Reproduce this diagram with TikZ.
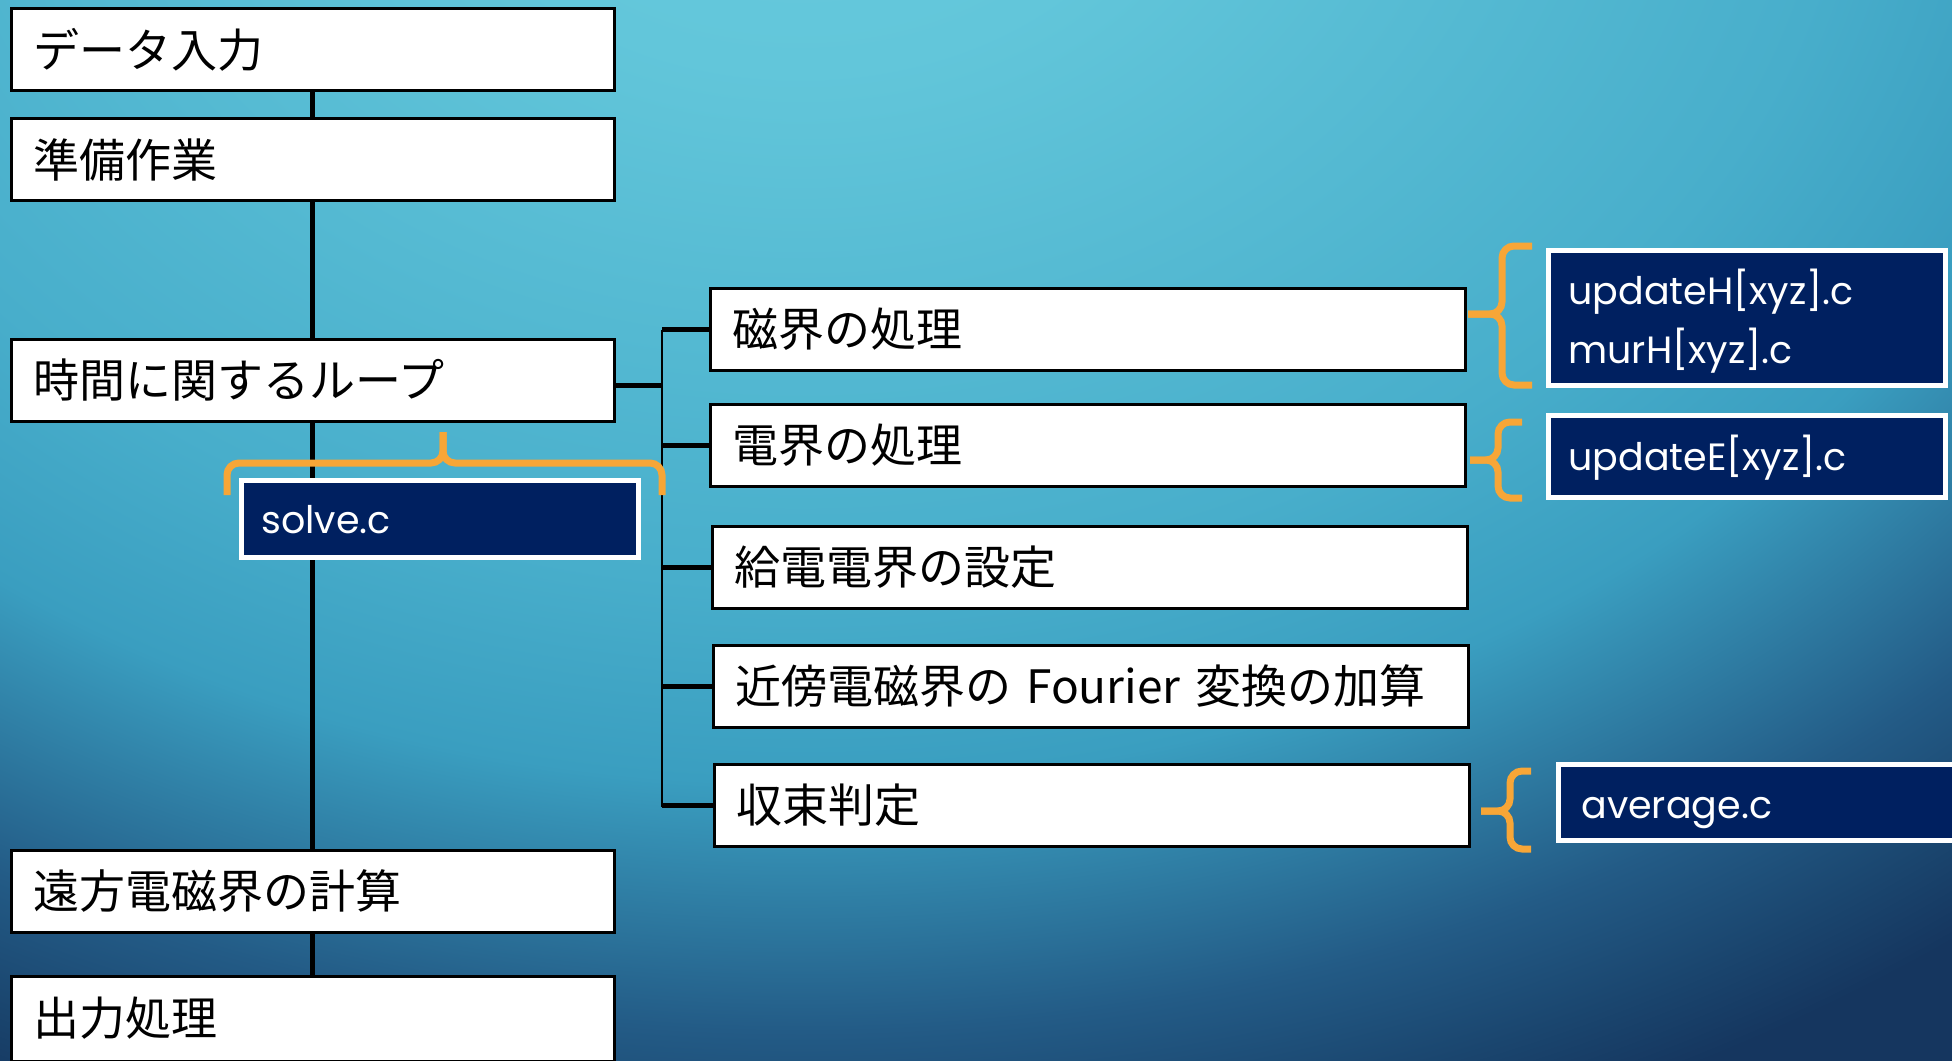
\documentclass[tikz,border=0pt]{standalone}
\usepackage{fontspec}
\newfontfamily\jp{Noto Sans CJK JP}
\newfontfamily\pop{Poppins}
\definecolor{bgA}{HTML}{68CBDE}
\definecolor{bgB}{HTML}{62C6DA}
\definecolor{bgC}{HTML}{48AECB}
\definecolor{bgD}{HTML}{3A9EC0}
\definecolor{bgE}{HTML}{235B86}
\definecolor{bgF}{HTML}{1A456E}
\definecolor{bgG}{HTML}{15365F}
\definecolor{navy}{HTML}{002060}
\definecolor{brc}{HTML}{F7A637}
\pgfdeclareradialshading{bgshade}{\pgfpointorigin}{color(0bp)=(bgA); color(2.5bp)=(bgB); color(7.25bp)=(bgC); color(9.1bp)=(bgD); color(11.4bp)=(bgE); color(12.5bp)=(bgF); color(13.25bp)=(bgG); color(50bp)=(bgG)}
\begin{document}
\begin{tikzpicture}[x=0.5pt,y=-0.5pt,
  wbox/.style={draw=black, line width=1.5pt, fill=white, inner xsep=11pt, inner ysep=0pt,
    align=left, text=black, font=\jp\fontsize{23pt}{27pt}\selectfont},
  lbox/.style={wbox, minimum width=301.5pt, text width=279.5pt, minimum height=41pt},
  rbox/.style={wbox, minimum width=377.5pt, text width=355.5pt, minimum height=41pt},
  dbox/.style={draw=white, line width=2.5pt, fill=navy, minimum width=198.5pt, inner sep=0pt},
  dtext/.style={text=white, font=\pop\fontsize{19pt}{23pt}\selectfont, inner sep=0pt, anchor=base west},
  trunk/.style={line width=2.5pt},
  bus/.style={line width=1pt},
  stub/.style={line width=2.5pt},
  brace/.style={draw=brc, line width=3.5pt, rounded corners=6pt}]
\useasboundingbox (0,0) rectangle (1952,1060);
\begin{scope}
  \clip (0,0) rectangle (1952,1060);
  \fill[shading=bgshade] (-2800,-2900) rectangle (4400,2500);
\end{scope}
% left column
\node[lbox] (b1) at (312.5,49.5) {データ入力};
\node[lbox] (b2) at (312.5,159.5) {準備作業};
\node[lbox] (b3) at (312.5,380) {時間に関するループ};
\node[lbox] (b4) at (312.5,891) {遠方電磁界の計算};
\node[lbox, minimum height=42.5pt] (b5) at (312.5,1018.5) {出力処理};
\draw[trunk] (b1.south) -- (b2.north);
\draw[trunk] (b2.south) -- (b3.north);
\draw[trunk] (b3.south) -- (b4.north);
\draw[trunk] (b4.south) -- (b5.north);
% right column
\node[rbox] (r1) at (1088,329.5) {磁界の処理};
\node[rbox] (r2) at (1088,445.5) {電界の処理};
\node[rbox] (r3) at (1090,567) {給電電界の設定};
\node[rbox] (r4) at (1090.5,686.5) {近傍電磁界の Fourier 変換の加算};
\node[rbox] (r5) at (1091.5,805.5) {収束判定};
\coordinate (bt) at (662,329.5);
\coordinate (bb) at (662,807);
\coordinate (bj) at (662,385);
\draw[bus] (bt) -- (bb);
\draw[stub] (b3.east |- bj) -- (bj);
\draw[stub] (r1.west -| bt) -- (r1.west);
\draw[stub] (r2.west -| bt) -- (r2.west);
\draw[stub] (r3.west -| bt) -- (r3.west);
\draw[stub] (r4.west -| bt) -- (r4.west);
\draw[stub] (r5.west -| bt) -- (r5.west);
% dark boxes
\node[dbox, minimum height=67.5pt] (dH) at (1747,318) {};
\node[dtext] (tH1) at (1568,304) {updateH[xyz].c};
\node[dtext] (tH2) at (1568,363) {murH[xyz].c};
\node[dbox, minimum height=41pt] (dE) at (1747,456.5) {};
\node[dtext] (tE) at (1568,470) {updateE[xyz].c};
\node[dbox, minimum height=38pt] (dA) at (1757,802.5) {};
\node[dtext] (tA) at (1581,818) {average.c};
\node[dbox, minimum height=38.5pt] (dS) at (440,519) {};
\node[dtext] (tS) at (261,533) {solve.c};
% braces
\draw[brace] (1532,246) -- (1502,246) -- (1502,314) -- (1468,314);
\draw[brace] (1532,385) -- (1502,385) -- (1502,314) -- (1468,314);
\draw[brace] (1522,422) -- (1498,422) -- (1498,460) -- (1470,460);
\draw[brace] (1522,498) -- (1498,498) -- (1498,460) -- (1470,460);
\draw[brace] (1531,771) -- (1510,771) -- (1510,811) -- (1481,811);
\draw[brace] (1531,849) -- (1510,849) -- (1510,811) -- (1481,811);
\draw[brace] (227,495) -- (227,463) -- (443,463) -- (443,432);
\draw[brace] (662,495) -- (662,463) -- (443,463) -- (443,432);
\end{tikzpicture}
\end{document}
